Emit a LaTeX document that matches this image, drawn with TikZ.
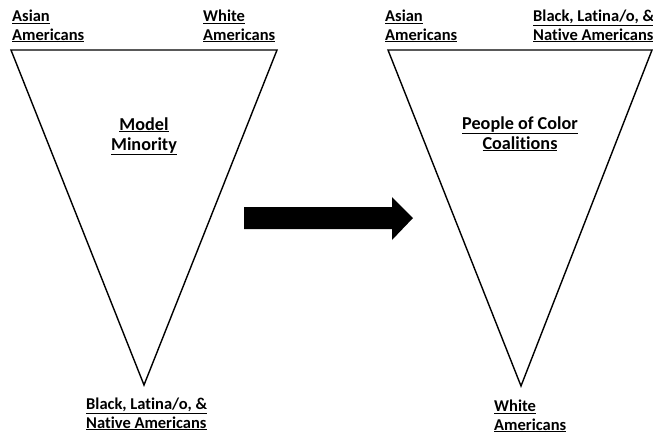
\documentclass[tikz,border=0pt]{standalone}
\usepackage{fontspec}
\setmainfont{Carlito}[Ligatures=CommonOff]
\begin{document}
\begin{tikzpicture}[x=1pt,y=-1pt,
  lbl/.style={font=\bfseries\fontsize{16.5}{18.5}\selectfont, inner sep=0pt, align=left, anchor=base west},
  mid/.style={font=\bfseries\fontsize{18.2}{20}\selectfont, inner sep=0pt, align=center, anchor=base},
  tri/.style={draw=black, line width=1.4pt, line join=miter}]
\useasboundingbox (0,0) rectangle (653,437);
% left triangle
\coordinate (L1) at (11,50);
\coordinate (L2) at (277,50);
\coordinate (L3) at (144,385);
\draw[tri] (L1) -- (L2) -- (L3) -- cycle;
% right triangle
\coordinate (R1) at (388,50);
\coordinate (R2) at (652,50);
\coordinate (R3) at (521,386);
\draw[tri] (R1) -- (R2) -- (R3) -- cycle;
% arrow
\fill[black] (244,207) -- (392,207) -- (392,197) -- (413,218) -- (392,240) -- (392,229) -- (244,229) -- cycle;
% labels (base anchor = baseline of last line)
\node[lbl] (la) at (12,40) {\underline{Asian}\\\underline{Americans}};
\node[lbl] (lw) at (203,40) {\underline{White}\\\underline{Americans}};
\node[lbl] (lb) at (86,428) {\underline{Black, Latina/o, \&}\\\underline{Native Americans}};
\node[mid] (lm) at (144,150) {\underline{Model}\\\underline{Minority}};
\node[lbl] (ra) at (385,40) {\underline{Asian}\\\underline{Americans}};
\node[lbl] (rb) at (533,40) {\underline{Black, Latina/o, \&}\\\underline{Native Americans}};
\node[lbl] (rw) at (494,430) {\underline{White}\\\underline{Americans}};
\node[mid] (rm) at (520,149) {\underline{People of Color}\\\underline{Coalitions}};
\end{tikzpicture}
\end{document}
